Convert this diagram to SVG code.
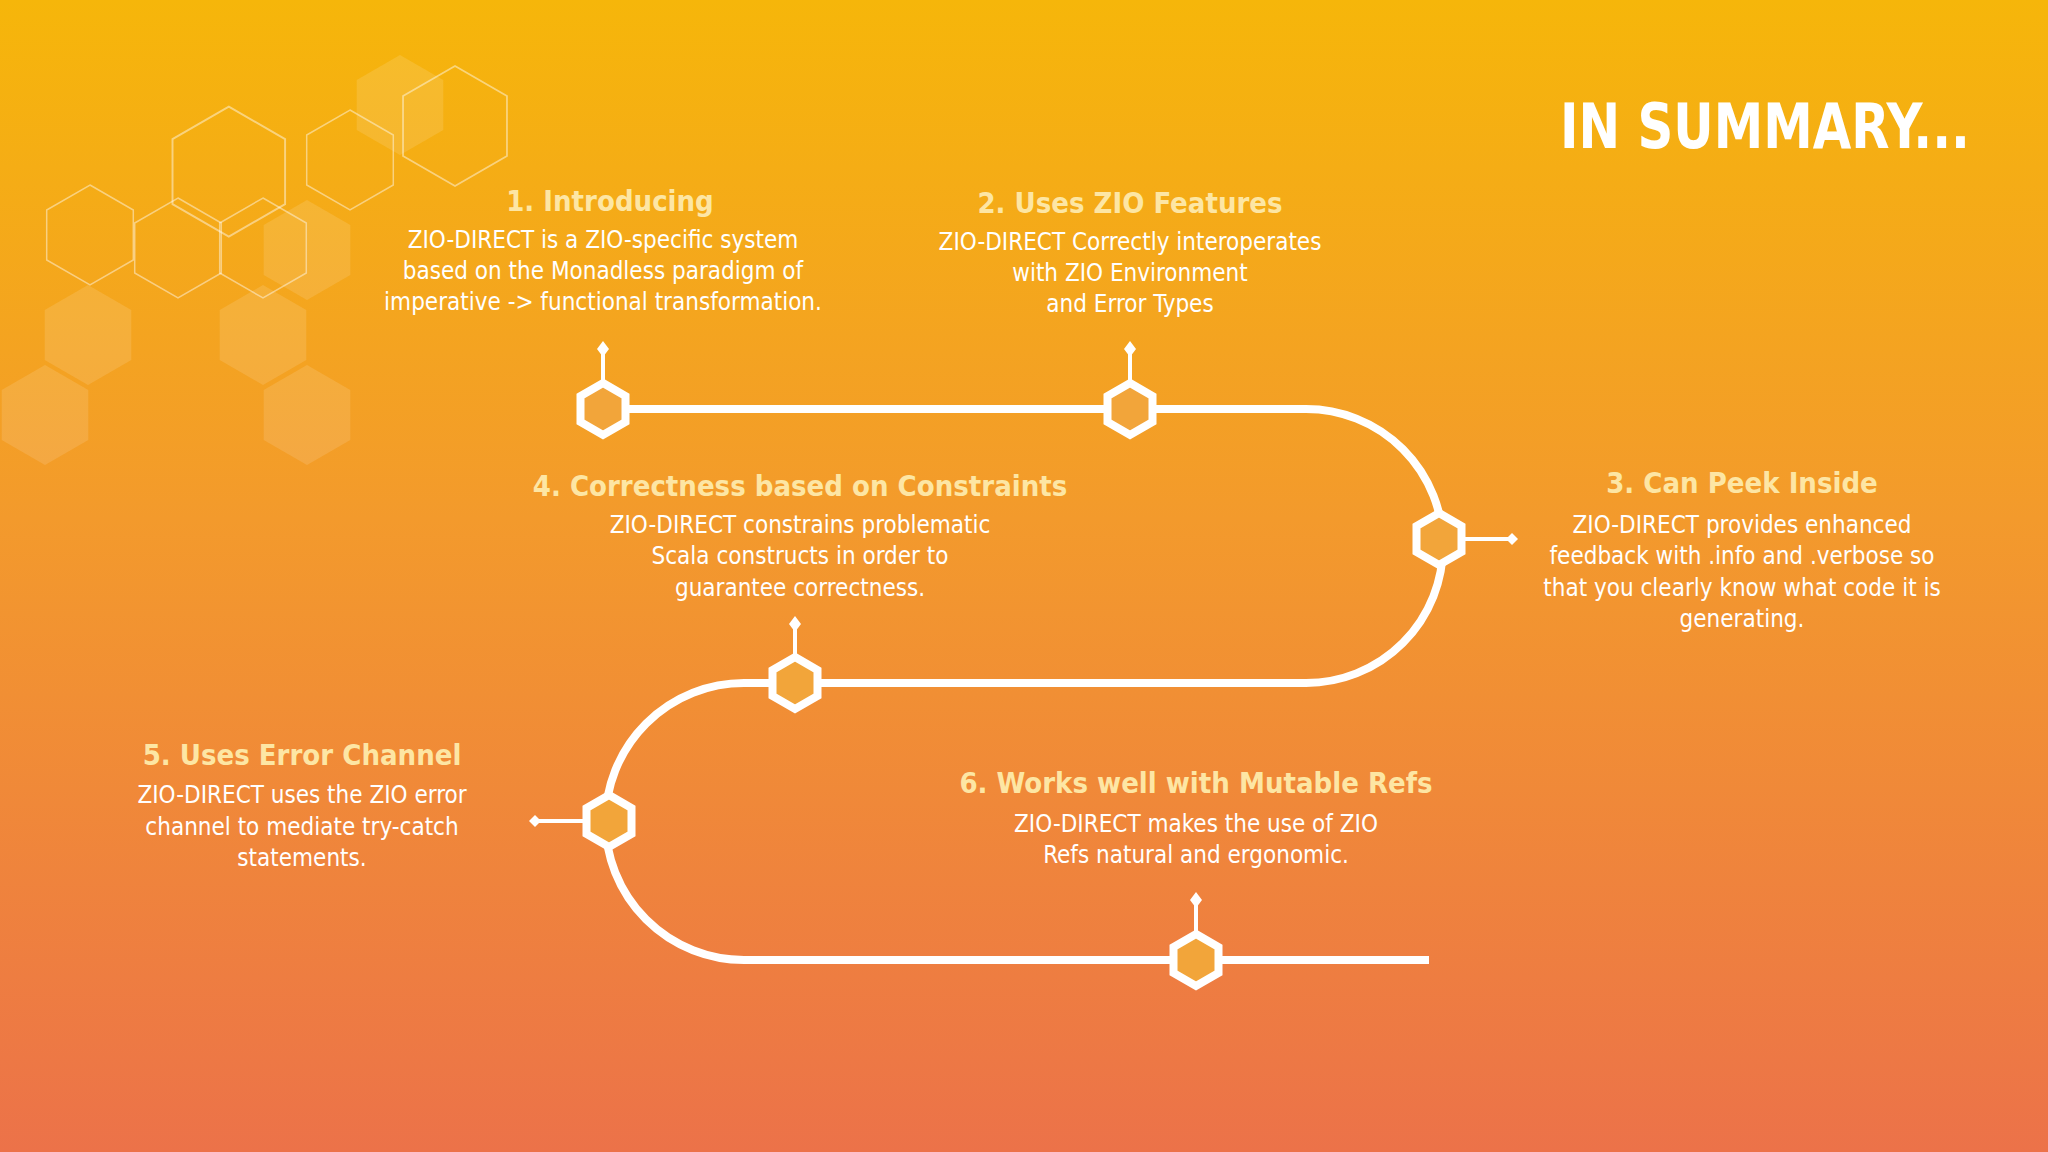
<svg xmlns="http://www.w3.org/2000/svg" width="2048" height="1152" viewBox="0 0 2048 1152">
<defs>
<linearGradient id="bg" x1="0" y1="0" x2="0" y2="1">
<stop offset="0" stop-color="#f6b60a"/>
<stop offset="0.45" stop-color="#f39a2c"/>
<stop offset="1" stop-color="#ec7249"/>
</linearGradient>
<polygon id="hx" points="0,-26 22.5,-13 22.5,13 0,26 -22.5,13 -22.5,-13"/>
<polygon id="bh" points="0,-50 43.3,-25 43.3,25 0,50 -43.3,25 -43.3,-25"/>
</defs>
<style>
.h{font-family:"DejaVu Sans Condensed","DejaVu Sans",sans-serif;font-weight:bold;font-size:29px;fill:#fde6a4;text-anchor:middle}
.b{font-family:"DejaVu Sans Condensed","DejaVu Sans",sans-serif;font-size:24px;fill:#ffffff;text-anchor:middle}
.node use{fill:#f2a53a;stroke:#fff;stroke-width:8}
.st{stroke:#fff;stroke-width:4;fill:none}
.main{stroke:#fff;stroke-width:8;fill:none}
.dm{fill:#fff}
.deco{fill:none;stroke:#fff;stroke-opacity:0.45;stroke-width:1.5}
.decof{fill:#fff;fill-opacity:0.12}
</style>
<rect width="2048" height="1152" fill="url(#bg)"/>
<g id="decoration">
<use href="#bh" x="176" y="132" transform="scale(1.3)" class="deco"/>
<use href="#bh" x="300" y="80" class="deco" transform="translate(95,30) scale(1.2)"/>
<use href="#bh" x="90" y="235" class="deco"/>
<use href="#bh" x="178" y="248" class="deco"/>
<use href="#bh" x="263" y="248" class="deco"/>
<use href="#bh" x="350" y="160" class="deco"/>
<use href="#bh" x="400" y="105" class="decof"/>
<use href="#bh" x="307" y="250" class="decof"/>
<use href="#bh" x="88" y="335" class="decof"/>
<use href="#bh" x="263" y="335" class="decof"/>
<use href="#bh" x="45" y="415" class="decof"/>
<use href="#bh" x="307" y="415" class="decof"/>
</g>
<text x="1765" y="148" font-family="DejaVu Sans Condensed,DejaVu Sans,sans-serif" font-weight="bold" font-size="62" fill="#fff" text-anchor="middle" textLength="410" lengthAdjust="spacingAndGlyphs">IN SUMMARY...</text>
<g id="connectors">
<path class="main" d="M603,409 H1306 A137,137 0 0 1 1306,683 H744 A138.5,138.5 0 0 0 744,960 H1429"/>
<path class="st" d="M603,383 V349 M1130,383 V349 M1465,539 H1512 M795,657 V624 M583,821 H535 M1196,934 V900"/>
<g class="dm">
<polygon points="603,341 609,349 603,357 597,349"/>
<polygon points="1130,341 1136,349 1130,357 1124,349"/>
<polygon points="1512,533 1518,539 1512,545 1506,539"/>
<polygon points="795,616 801,624 795,632 789,624"/>
<polygon points="535,815 541,821 535,827 529,821"/>
<polygon points="1196,892 1202,900 1196,908 1190,900"/>
</g>
</g>
<g id="n1" class="node"><use href="#hx" x="603" y="409"/>
<text class="h" x="610" y="211">1. Introducing</text>
<text class="b" x="603" y="248">ZIO-DIRECT is a ZIO-specific system</text>
<text class="b" x="603" y="279">based on the Monadless paradigm of</text>
<text class="b" x="603" y="310">imperative -&gt; functional transformation.</text></g>
<g id="n2" class="node"><use href="#hx" x="1130" y="409"/>
<text class="h" x="1130" y="213">2. Uses ZIO Features</text>
<text class="b" x="1130" y="250">ZIO-DIRECT Correctly interoperates</text>
<text class="b" x="1130" y="281">with ZIO Environment</text>
<text class="b" x="1130" y="312">and Error Types</text></g>
<g id="n3" class="node"><use href="#hx" x="1439" y="539"/>
<text class="h" x="1742" y="493">3. Can Peek Inside</text>
<text class="b" x="1742" y="533">ZIO-DIRECT provides enhanced</text>
<text class="b" x="1742" y="564">feedback with .info and .verbose so</text>
<text class="b" x="1742" y="596">that you clearly know what code it is</text>
<text class="b" x="1742" y="627">generating.</text></g>
<g id="n4" class="node"><use href="#hx" x="795" y="683"/>
<text class="h" x="800" y="496">4. Correctness based on Constraints</text>
<text class="b" x="800" y="533">ZIO-DIRECT constrains problematic</text>
<text class="b" x="800" y="564">Scala constructs in order to</text>
<text class="b" x="800" y="596">guarantee correctness.</text></g>
<g id="n5" class="node"><use href="#hx" x="609" y="821"/>
<text class="h" x="302" y="765">5. Uses Error Channel</text>
<text class="b" x="302" y="803">ZIO-DIRECT uses the ZIO error</text>
<text class="b" x="302" y="835">channel to mediate try-catch</text>
<text class="b" x="302" y="866">statements.</text></g>
<g id="n6" class="node"><use href="#hx" x="1196" y="960"/>
<text class="h" x="1196" y="793">6. Works well with Mutable Refs</text>
<text class="b" x="1196" y="832">ZIO-DIRECT makes the use of ZIO</text>
<text class="b" x="1196" y="863">Refs natural and ergonomic.</text></g>
</svg>
